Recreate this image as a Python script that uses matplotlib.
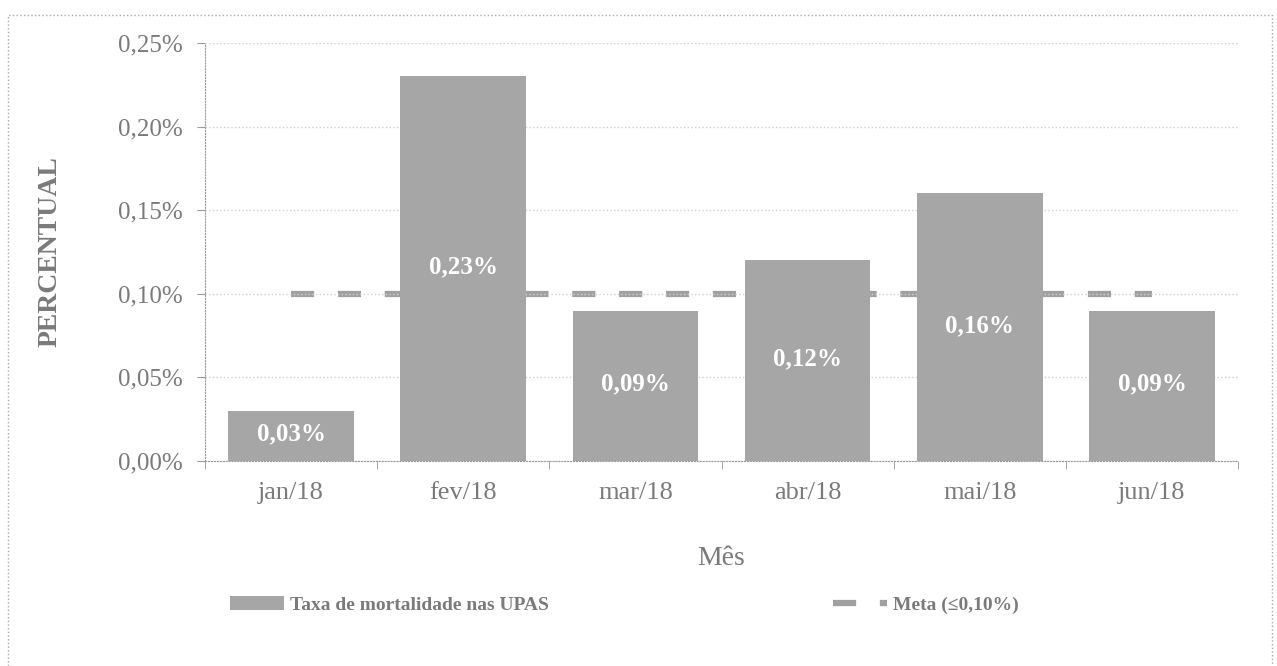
import matplotlib.pyplot as plt
from matplotlib.patches import Rectangle

meses = ["jan/18", "fev/18", "mar/18", "abr/18", "mai/18", "jun/18"]
taxa = [0.03, 0.23, 0.09, 0.12, 0.16, 0.09]
meta = [0.10, 0.10, 0.10, 0.10, 0.10, 0.10]
yticks = [0.00, 0.05, 0.10, 0.15, 0.20, 0.25]

plt.rcParams['font.family'] = ['Liberation Serif', 'DejaVu Serif']
txt = '#7a7a7a'

fig = plt.figure(figsize=(12.77, 6.66), dpi=100)
ax = fig.add_axes([0.1605, 0.3078, 0.809, 0.6276])

x = range(len(meses))
bars = ax.bar(x, taxa, width=0.73, color='#a6a6a6', zorder=2)
linha, = ax.plot(x, meta, color='#a0a0a0', lw=4.5, dashes=(3.7, 3.8), zorder=1)

for b, v in zip(bars, taxa):
    ax.text(b.get_x() + b.get_width() / 2, v / 2 + 0.001,
            ('%.2f%%' % v).replace('.', ','), ha='center', va='center',
            color='white', fontsize=18, fontweight='bold', zorder=3)

ax.set_xlim(-0.5, 5.5)
ax.set_ylim(0, 0.25)
ax.set_yticks(yticks)
ax.set_yticklabels([('%.2f%%' % t).replace('.', ',') for t in yticks],
                   fontsize=18, color=txt)
ax.set_xticks(x)
ax.set_xticklabels(meses, fontsize=19, color=txt)
ax.tick_params(axis='x', length=0, pad=15)
ax.tick_params(axis='y', length=6, color='#999999', pad=10)
ax.set_xticks([i - 0.5 for i in range(7)], minor=True)
ax.tick_params(axis='x', which='minor', length=6, color='#999999')

ax.grid(axis='y', color='#d0d0d0', linestyle=':', lw=1, zorder=0)
for s in ['top', 'right']:
    ax.spines[s].set_visible(False)
ax.spines['left'].set_color('#999999')
ax.spines['bottom'].set_color('#999999')
ax.spines['left'].set_linestyle(':')
ax.spines['bottom'].set_linestyle(':')

ax.set_xlabel('Mês', fontsize=20, color=txt, labelpad=30)
ax.set_ylabel('PERCENTUAL', fontsize=20, color=txt, fontweight='bold', labelpad=40)

y_leg = 1 - 605 / 666
fig.legend([bars], ['Taxa de mortalidade nas UPAS'], loc='center left',
           bbox_to_anchor=(230 / 1277, y_leg), frameon=False, borderpad=0,
           borderaxespad=0, handlelength=2.8, handletextpad=0.3, labelcolor=txt,
           prop={'weight': 'bold', 'size': 14})
fig.legend([linha], ['Meta (≤0,10%)'], loc='center left',
           bbox_to_anchor=(833 / 1277, y_leg), frameon=False, borderpad=0,
           borderaxespad=0, handlelength=2.8, handletextpad=0.3, labelcolor=txt,
           prop={'weight': 'bold', 'size': 14})

fig.patches.append(Rectangle((0.006, -0.05), 0.99, 1.028, transform=fig.transFigure,
                             fill=False, ec='#aaaaaa', lw=1, ls=':'))

fig.savefig('out.png', dpi=100)
